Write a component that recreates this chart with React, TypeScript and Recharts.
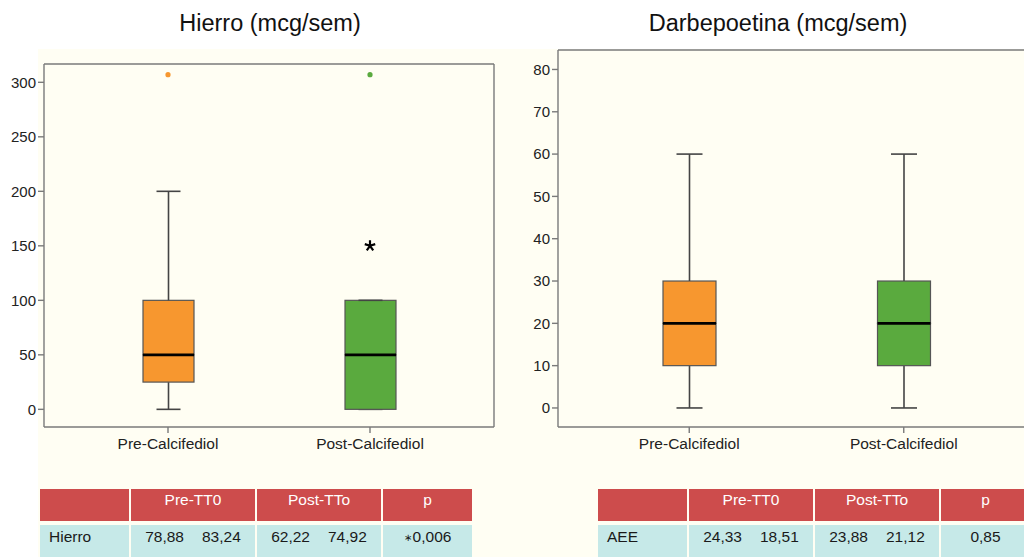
import React from "react";
import { ComposedChart, Bar, Scatter, XAxis, YAxis } from "recharts";

// box-plot values
const CATEGORIES = ["Pre-Calcifediol", "Post-Calcifediol"];

const HIERRO_MIN = [0, 0];
const HIERRO_Q1 = [25, 0];
const HIERRO_MEDIAN = [50, 50];
const HIERRO_Q3 = [100, 100];
const HIERRO_MAX = [200, 100];
const HIERRO_OUTLIERS = [307, 307];
const HIERRO_EXTREMES: (number | null)[] = [null, 150];
const HIERRO_TICKS = [0, 50, 100, 150, 200, 250, 300];

const DARBE_MIN = [0, 0];
const DARBE_Q1 = [10, 10];
const DARBE_MEDIAN = [20, 20];
const DARBE_Q3 = [30, 30];
const DARBE_MAX = [60, 60];
const DARBE_OUTLIERS: (number | null)[] = [null, null];
const DARBE_EXTREMES: (number | null)[] = [null, null];
const DARBE_TICKS = [0, 10, 20, 30, 40, 50, 60, 70, 80];

// table under each chart
const TABLE_HEADERS = ["", "Pre-TT0", "Post-TTo", "p"];
const HIERRO_LABEL = "Hierro";
const HIERRO_PRE = ["78,88", "83,24"];
const HIERRO_POST = ["62,22", "74,92"];
const HIERRO_P = "\u22170,006";
const AEE_LABEL = "AEE";
const AEE_PRE = ["24,33", "18,51"];
const AEE_POST = ["23,88", "21,12"];
const AEE_P = "0,85";

const BOX_COLORS = ["#f7972f", "#5aaa3e"];
const FRAME = "#7a7a7a";
const CREAM = "#fffef3";
const FONT = '"Liberation Sans", Arial, Helvetica, sans-serif';

function buildRows(
  min: number[],
  q1: number[],
  med: number[],
  q3: number[],
  max: number[],
  outliers: (number | null)[],
  extremes: (number | null)[],
) {
  return CATEGORIES.map((name, i) => ({
    name,
    base: min[i],
    lowWhisker: q1[i] - min[i],
    lowBox: med[i] - q1[i],
    highBox: q3[i] - med[i],
    highWhisker: max[i] - q3[i],
    outlier: outliers[i],
    extreme: extremes[i],
  }));
}

const hierroRows = buildRows(HIERRO_MIN, HIERRO_Q1, HIERRO_MEDIAN, HIERRO_Q3, HIERRO_MAX, HIERRO_OUTLIERS, HIERRO_EXTREMES);
const darbeRows = buildRows(DARBE_MIN, DARBE_Q1, DARBE_MEDIAN, DARBE_Q3, DARBE_MAX, DARBE_OUTLIERS, DARBE_EXTREMES);

const Empty = () => <g />;

const lowWhiskerShape = (capW: number) => (p: any) => {
  const cx = p.x + p.width / 2;
  const bottom = p.y + p.height;
  return (
    <g>
      <line x1={cx} x2={cx} y1={p.y} y2={bottom} stroke="#444" strokeWidth={1.6} />
      <line x1={cx - capW / 2} x2={cx + capW / 2} y1={bottom} y2={bottom} stroke="#444" strokeWidth={1.6} />
    </g>
  );
};

const highWhiskerShape = (capW: number) => (p: any) => {
  const cx = p.x + p.width / 2;
  return (
    <g>
      <line x1={cx} x2={cx} y1={p.y} y2={p.y + p.height} stroke="#444" strokeWidth={1.6} />
      <line x1={cx - capW / 2} x2={cx + capW / 2} y1={p.y} y2={p.y} stroke="#444" strokeWidth={1.6} />
    </g>
  );
};

const lowBoxShape = (p: any) => (
  <rect x={p.x} y={p.y} width={p.width} height={p.height} fill={BOX_COLORS[p.index]} stroke="#555" strokeWidth={1.2} />
);

const highBoxShape = (p: any) => {
  const bottom = p.y + p.height;
  return (
    <g>
      <rect x={p.x} y={p.y} width={p.width} height={p.height} fill={BOX_COLORS[p.index]} stroke="#555" strokeWidth={1.2} />
      <line x1={p.x} x2={p.x + p.width} y1={bottom} y2={bottom} stroke="#000" strokeWidth={2.6} />
    </g>
  );
};

const outlierShape = (p: any) => {
  if (p.payload?.outlier == null || !isFinite(p.cy)) return <g />;
  return <circle cx={p.cx} cy={p.cy} r={2.6} fill={BOX_COLORS[p.index]} />;
};

const extremeShape = (p: any) => {
  if (p.payload?.extreme == null || !isFinite(p.cy)) return <g />;
  const r = 5.5;
  const arms = [-90, -18, 54, 126, 198].map((deg) => {
    const a = (deg * Math.PI) / 180;
    return `M${p.cx},${p.cy}L${p.cx + r * Math.cos(a)},${p.cy + r * Math.sin(a)}`;
  });
  return <path d={arms.join("")} stroke="#000" strokeWidth={2.2} fill="none" />;
};

type BoxChartProps = {
  rows: ReturnType<typeof buildRows>;
  width: number;
  height: number;
  margin: { top: number; right: number; bottom: number; left: number };
  yWidth: number;
  domain: [number, number];
  ticks: number[];
  barSize: number;
  capW: number;
  padding: number;
};

function BoxChart({ rows, width, height, margin, yWidth, domain, ticks, barSize, capW, padding }: BoxChartProps) {
  const tickStyle = { fontSize: 15, fill: "#222", fontFamily: FONT };
  return (
    <ComposedChart width={width} height={height} data={rows} margin={margin} barGap={0}>
      <XAxis
        dataKey="name"
        type="category"
        padding={{ left: padding, right: padding }}
        tick={{ ...tickStyle, fontSize: 15.5 }}
        tickSize={6}
        tickMargin={5}
        stroke={FRAME}
        axisLine={{ stroke: FRAME, strokeWidth: 1.4 }}
        tickLine={{ stroke: FRAME, strokeWidth: 1.4 }}
        height={30}
        interval={0}
      />
      <XAxis
        xAxisId="top"
        dataKey="name"
        orientation="top"
        tick={false}
        tickLine={false}
        height={1}
        stroke={FRAME}
        axisLine={{ stroke: FRAME, strokeWidth: 1.4 }}
      />
      <YAxis
        type="number"
        domain={domain}
        allowDataOverflow
        ticks={ticks}
        tick={tickStyle}
        tickSize={6}
        tickMargin={2}
        width={yWidth}
        axisLine={{ stroke: FRAME, strokeWidth: 1.4 }}
        tickLine={{ stroke: FRAME, strokeWidth: 1.4 }}
      />
      <YAxis
        yAxisId="right"
        orientation="right"
        domain={domain}
        allowDataOverflow
        tick={false}
        tickLine={false}
        width={1}
        stroke={FRAME}
        axisLine={{ stroke: FRAME, strokeWidth: 1.4 }}
      />
      <Bar dataKey="base" stackId="box" barSize={barSize} shape={Empty} isAnimationActive={false} />
      <Bar dataKey="lowWhisker" stackId="box" barSize={barSize} shape={lowWhiskerShape(capW)} isAnimationActive={false} />
      <Bar dataKey="lowBox" stackId="box" barSize={barSize} shape={lowBoxShape} isAnimationActive={false} />
      <Bar dataKey="highBox" stackId="box" barSize={barSize} shape={highBoxShape} isAnimationActive={false} />
      <Bar dataKey="highWhisker" stackId="box" barSize={barSize} shape={highWhiskerShape(capW)} isAnimationActive={false} />
      <Scatter dataKey="outlier" shape={outlierShape} isAnimationActive={false} />
      <Scatter dataKey="extreme" shape={extremeShape} isAnimationActive={false} />
    </ComposedChart>
  );
}

const COL_WIDTHS = [89, 124, 124, 89];

function PValue({ text }: { text: string }) {
  if (text.startsWith("\u2217")) {
    return (
      <span>
        <span style={{ fontSize: 10, position: "relative", top: -1, marginRight: 1 }}>{"\u2217"}</span>
        {text.slice(1)}
      </span>
    );
  }
  return <span>{text}</span>;
}

function StatsTable({ left, label, pre, post, p }: { left: number; label: string; pre: string[]; post: string[]; p: string }) {
  const cell = (w: number, bg: string, extra: React.CSSProperties, content: React.ReactNode, key: number) => (
    <div
      key={key}
      style={{
        width: w,
        background: bg,
        boxSizing: "border-box",
        display: "flex",
        justifyContent: "center",
        alignItems: "baseline",
        gap: 18,
        lineHeight: "20px",
        ...extra,
      }}
    >
      {content}
    </div>
  );
  return (
    <div style={{ position: "absolute", left, top: 489, fontFamily: FONT, fontSize: 15.5 }}>
      <div style={{ display: "flex", gap: 2, height: 32 }}>
        {TABLE_HEADERS.map((h, i) => cell(COL_WIDTHS[i], "#cd4c4c", { color: "#fff", paddingTop: 1 }, h, i))}
      </div>
      <div style={{ display: "flex", gap: 2, height: 34, marginTop: 4 }}>
        {cell(COL_WIDTHS[0], "#c6e9e8", { color: "#1a1a1a", paddingTop: 2, justifyContent: "flex-start", paddingLeft: 9 }, label, 0)}
        {cell(COL_WIDTHS[1], "#c6e9e8", { color: "#1a1a1a", paddingTop: 2 }, pre.map((v) => <span key={v}>{v}</span>), 1)}
        {cell(COL_WIDTHS[2], "#c6e9e8", { color: "#1a1a1a", paddingTop: 2 }, post.map((v) => <span key={v}>{v}</span>), 2)}
        {cell(COL_WIDTHS[3], "#c6e9e8", { color: "#1a1a1a", paddingTop: 2 }, <PValue text={p} />, 3)}
      </div>
    </div>
  );
}

export default function App() {
  const titleStyle: React.CSSProperties = {
    position: "absolute",
    top: 12,
    fontSize: 23.5,
    lineHeight: "23.5px",
    color: "#111",
    transform: "translateX(-50%)",
    whiteSpace: "nowrap",
  };
  return (
    <div
      style={{
        position: "absolute",
        left: 0,
        top: 0,
        width: 1024,
        height: 557,
        overflow: "hidden",
        background: "#fff",
        fontFamily: FONT,
      }}
    >
      <div style={{ position: "absolute", left: 38, top: 49, width: 986, height: 508, background: CREAM }} />
      <div style={{ ...titleStyle, left: 270 }}>Hierro (mcg/sem)</div>
      <div style={{ ...titleStyle, left: 778 }}>Darbepoetina (mcg/sem)</div>
      <div style={{ position: "absolute", left: 0, top: 0 }}>
        <BoxChart
          rows={hierroRows}
          width={520}
          height={470}
          margin={{ top: 63, right: 25, bottom: 13, left: 0 }}
          yWidth={44}
          domain={[-16.2, 316.8]}
          ticks={HIERRO_TICKS}
          barSize={51}
          capW={24}
          padding={23}
        />
      </div>
      <div style={{ position: "absolute", left: 512, top: 0 }}>
        <BoxChart
          rows={darbeRows}
          width={540}
          height={470}
          margin={{ top: 49, right: 16, bottom: 13, left: 0 }}
          yWidth={46}
          domain={[-4.5, 84.6]}
          ticks={DARBE_TICKS}
          barSize={53}
          capW={26}
          padding={24}
        />
      </div>
      <StatsTable left={40} label={HIERRO_LABEL} pre={HIERRO_PRE} post={HIERRO_POST} p={HIERRO_P} />
      <StatsTable left={598} label={AEE_LABEL} pre={AEE_PRE} post={AEE_POST} p={AEE_P} />
    </div>
  );
}
